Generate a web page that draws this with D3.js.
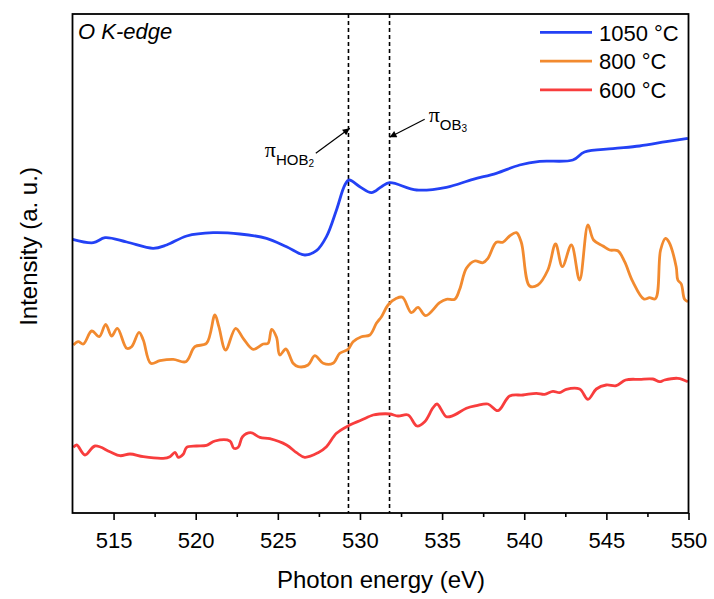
<!DOCTYPE html>
<html>
<head>
<meta charset="utf-8">
<script src="https://cdn.jsdelivr.net/npm/d3@7"></script>
<style>
  body { margin: 0; background: #fff; }
  svg { display: block; font-family: "Liberation Sans", Arial, sans-serif; }
</style>
</head>
<body>
<svg id="chart"></svg>
<script>
// Photon energy (eV) / intensity (a. u.) pairs
const energy1050 = [512.51, 513.77, 514.48, 515.80, 517.41, 518.23, 519.45, 521.06, 522.69, 524.31,
  525.53, 526.64, 527.35, 527.96, 528.57, 529.08, 529.34, 529.99, 530.70, 531.31, 531.81,
  533.44, 535.26, 536.88, 538.30, 539.72, 540.94, 542.96, 543.67, 545.40, 547.02, 548.64, 549.96];
const intensity1050 = [273.7, 270.3, 275.3, 271, 264.7, 268, 277, 280.3, 279, 274.7,
  266.3, 258, 262.3, 276.3, 303, 328, 333, 326.3, 320.3, 326.3, 330.3,
  323, 325.7, 333.7, 339.7, 348, 351.7, 353, 361, 364.3, 367, 371.3, 374.7];

const energy800 = [512.55, 512.85, 513.16, 513.67, 514.13, 514.52, 514.88, 515.23, 515.80, 516.10,
  516.55, 516.81, 517.26, 517.82, 518.63, 519.40, 519.95, 520.66, 521.17, 521.41,
  521.82, 522.43, 522.89, 523.50, 524.11, 524.41, 524.62, 524.92, 525.12, 525.49,
  525.93, 526.24, 526.84, 527.25, 527.76, 528.36, 528.77, 529.28, 529.58, 530.09,
  530.60, 531.00, 531.31, 531.71, 532.22, 532.59, 533.13, 533.53, 534.00, 534.85,
  535.26, 535.77, 536.07, 536.48, 536.98, 537.49, 537.79, 538.30, 538.70, 539.11,
  539.52, 539.82, 540.33, 540.83, 541.44, 541.91, 542.32, 542.87, 543.37, 543.88,
  544.22, 544.79, 545.20, 545.70, 546.11, 546.61, 547.28, 547.63, 547.99, 548.30,
  548.60, 548.80, 549.25, 549.35, 549.56, 549.76, 549.96];
const intensity800 = [168, 171.3, 169, 182, 176.3, 188.7, 177, 184.7, 164.7, 166.3,
  180.7, 173, 149.7, 152.3, 153.7, 151.3, 166.3, 169.7, 198, 186.3,
  163, 184.7, 174.7, 163.7, 169, 169.7, 183.7, 175.7, 158, 164,
  149.7, 146.3, 148, 157.3, 149.7, 149.7, 159.7, 163.7, 171.3, 176.3,
  178, 189.7, 196.3, 208, 214.7, 215.7, 200.3, 205.7, 197.3, 210.3,
  213.7, 213.7, 223.7, 244.7, 252, 250.3, 254.7, 270.7, 270.7, 277,
  280.3, 270.7, 227, 228, 243, 269, 246.3, 268, 233, 288,
  273, 267, 263, 262.3, 251.3, 231.3, 214, 215.3, 214.3, 263,
  274.7, 271.3, 246.3, 233, 229, 213.7, 211.3];

const energy600 = [512.55, 512.76, 513.26, 513.87, 514.78, 515.39, 516.00, 516.81, 518.02, 518.43,
  518.74, 518.94, 519.24, 519.45, 520.05, 520.66, 521.17, 522.08, 522.32, 522.59,
  522.85, 523.34, 523.91, 524.51, 525.53, 526.14, 526.64, 527.45, 527.96, 528.57,
  529.38, 530.09, 530.80, 531.20, 531.81, 532.32, 532.93, 533.47, 533.94, 534.45,
  534.69, 535.26, 535.66, 536.48, 537.09, 537.79, 538.40, 539.11, 539.92, 540.74,
  541.24, 541.75, 542.15, 542.56, 543.37, 543.88, 544.39, 544.99, 545.60, 546.17,
  547.02, 547.83, 548.24, 548.54, 549.35, 549.96];
const intensity600 = [65.7, 68, 58, 67, 61.3, 57.3, 59, 56.3, 54.7, 56.3,
  60.7, 55.7, 58.7, 65.7, 67, 67.7, 72, 72, 64.7, 65.7,
  76.3, 80.3, 75.7, 74.3, 68, 60.3, 55.7, 60.3, 66.3, 79.7,
  88, 93, 98, 99, 99, 97, 98, 87, 91.3, 105.3,
  109, 96.3, 97.3, 104.7, 107.3, 109, 102.3, 117, 118, 119.7,
  118.7, 121.7, 120.3, 123.7, 124, 113.7, 124, 128, 127.3, 133,
  133.7, 134, 131.3, 133, 134.7, 131.3];

const seriesNames = ["1050 °C", "800 °C", "600 °C"];
const seriesColors = ["#2341f5", "#f28a2f", "#f83d3d"];

const majorTicks = [515, 520, 525, 530, 535, 540, 545, 550];
const minorTicks = [517.5, 522.5, 527.5, 532.5, 537.5, 542.5, 547.5];
const peakEnergies = [529.3, 531.8];

const width = 714;
const height = 599;
const margin = { top: 14, right: 25.5, bottom: 86, left: 72.5 };

const svg = d3.select("#chart").attr("width", width).attr("height", height);

const x = d3.scaleLinear().domain([512.5, 550]).range([margin.left, width - margin.right]);
const y = d3.scaleLinear().domain([0, 499]).range([height - margin.bottom, margin.top]);

const series = [
  { name: seriesNames[0], color: seriesColors[0], e: energy1050, v: intensity1050 },
  { name: seriesNames[1], color: seriesColors[1], e: energy800, v: intensity800 },
  { name: seriesNames[2], color: seriesColors[2], e: energy600, v: intensity600 },
];

// dashed peak markers
svg.selectAll(".peak")
  .data(peakEnergies)
  .enter()
  .append("line")
  .attr("class", "peak")
  .attr("x1", (d) => x(d))
  .attr("x2", (d) => x(d))
  .attr("y1", y(499))
  .attr("y2", y(0))
  .attr("stroke", "#000")
  .attr("stroke-width", 1.6)
  .attr("stroke-dasharray", "4,3");

// spectra
series.forEach((s) => {
  const line = d3.line()
    .x((d, i) => x(s.e[i]))
    .y((d) => y(d))
    .curve(d3.curveCatmullRom.alpha(0.5));
  svg.append("path")
    .datum(s.v)
    .attr("fill", "none")
    .attr("stroke", s.color)
    .attr("stroke-width", 2.8)
    .attr("stroke-linejoin", "round")
    .attr("d", line);
});

// frame
svg.append("rect")
  .attr("x", x(512.5))
  .attr("y", y(499))
  .attr("width", x(550) - x(512.5))
  .attr("height", y(0) - y(499))
  .attr("fill", "none")
  .attr("stroke", "#000")
  .attr("stroke-width", 1.8);

// x axis
const xAxis = svg.append("g")
  .attr("transform", `translate(0,${y(0)})`)
  .call(d3.axisBottom(x).tickValues(majorTicks).tickSize(7).tickSizeOuter(0).tickFormat(d3.format("d")));
xAxis.select(".domain").remove();
xAxis.selectAll("line").attr("stroke-width", 1.6);
xAxis.selectAll("text")
  .attr("y", 35)
  .attr("dy", null)
  .style("font-size", "22px")
  .style("font-family", "'Liberation Sans', Arial, sans-serif")
  .attr("fill", "#000");

const xMinor = svg.append("g")
  .attr("transform", `translate(0,${y(0)})`)
  .call(d3.axisBottom(x).tickValues(minorTicks).tickSize(4).tickSizeOuter(0).tickFormat(""));
xMinor.select(".domain").remove();
xMinor.selectAll("line").attr("stroke-width", 1.6);

// axis titles
svg.append("text")
  .attr("x", (x(512.5) + x(550)) / 2 + 0.5)
  .attr("y", 588)
  .attr("text-anchor", "middle")
  .style("font-size", "24px")
  .text("Photon energy (eV)");

svg.append("text")
  .attr("transform", `translate(37,${(y(0) + y(499)) / 2 - 17}) rotate(-90)`)
  .attr("text-anchor", "middle")
  .style("font-size", "24px")
  .text("Intensity (a. u.)");

svg.append("text")
  .attr("x", 78)
  .attr("y", 38.5)
  .style("font-size", "22px")
  .style("font-style", "italic")
  .text("O K-edge");

// legend
const legend = svg.append("g")
  .selectAll("g")
  .data(series)
  .enter()
  .append("g")
  .attr("transform", (d, i) => `translate(540,${32.3 + i * 28.8})`);

legend.append("line")
  .attr("x1", 0)
  .attr("x2", 52)
  .attr("stroke", (d) => d.color)
  .attr("stroke-width", 2.8);

legend.append("text")
  .attr("x", 59)
  .attr("y", 8.2)
  .style("font-size", "22px")
  .text((d) => d.name);

// peak annotations
const annotations = [
  { sub: "HOB", subsub: "2", textE: 524.21, textI: 356.3, tailE: 527.31, tailI: 359.7, tipE: 529.38, tipI: 384.7 },
  { sub: "OB", subsub: "3", textE: 534.18, textI: 391.3, tailE: 533.94, tailI: 393.7, tipE: 531.8, tipI: 375.7 },
];

svg.append("defs")
  .append("marker")
  .attr("id", "arrow")
  .attr("viewBox", "0 0 10 10")
  .attr("refX", 10)
  .attr("refY", 5)
  .attr("markerWidth", 10)
  .attr("markerHeight", 7)
  .attr("markerUnits", "userSpaceOnUse")
  .attr("orient", "auto")
  .append("path")
  .attr("d", "M0,0L10,5L0,10Z")
  .attr("fill", "#000");

svg.selectAll(".arrow")
  .data(annotations)
  .enter()
  .append("line")
  .attr("class", "arrow")
  .attr("x1", (d) => x(d.tailE))
  .attr("y1", (d) => y(d.tailI))
  .attr("x2", (d) => x(d.tipE))
  .attr("y2", (d) => y(d.tipI))
  .attr("stroke", "#000")
  .attr("stroke-width", 1.2)
  .attr("marker-end", "url(#arrow)");

const labels = svg.selectAll(".pi")
  .data(annotations)
  .enter()
  .append("text")
  .attr("class", "pi")
  .attr("x", (d) => x(d.textE))
  .attr("y", (d) => y(d.textI));

labels.append("tspan")
  .style("font-family", "'Liberation Serif', 'Times New Roman', serif")
  .style("font-size", "22px")
  .text("π");
labels.append("tspan")
  .attr("dy", 8)
  .style("font-size", "15px")
  .text((d) => d.sub);
labels.append("tspan")
  .attr("dy", 2.5)
  .style("font-size", "10px")
  .text((d) => d.subsub);
</script>
</body>
</html>
